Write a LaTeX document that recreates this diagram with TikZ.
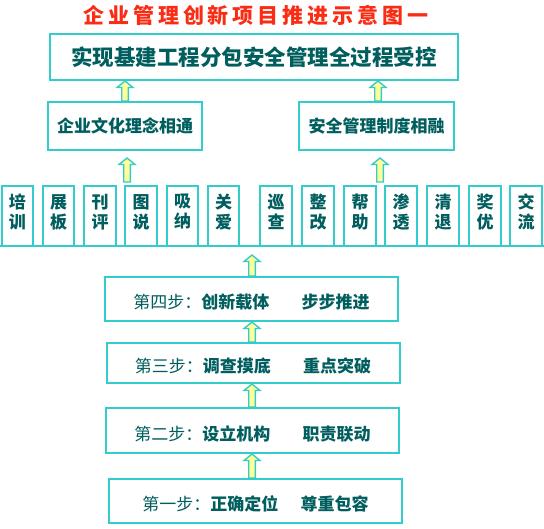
\documentclass[tikz,border=0pt]{standalone}
\usepackage{fontspec}
\newfontfamily\cjk{Noto Sans CJK SC}
\usepackage{xcolor}
\usepackage{tikz}
\usetikzlibrary{calc}
\usetikzlibrary{positioning,backgrounds}

\definecolor{boxline}{RGB}{51,204,204}
\definecolor{boxtext}{RGB}{0,94,94}
\definecolor{titlered}{RGB}{250,45,20}
\definecolor{arrowfill}{RGB}{255,255,153}

\tikzset{
  mainbox/.style={draw=boxline, line width=2pt, fill=white, inner sep=0pt, text=boxtext},
  smallbox/.style={mainbox, minimum width=31.5pt, minimum height=60pt},
  smalltext/.style={align=center, inner sep=0pt, text=boxtext, font=\cjk\bfseries\fontsize{17}{20}\selectfont},
  stepbox/.style={mainbox, minimum width=293pt, text height=20pt, text depth=0pt, font=\cjk\bfseries\fontsize{17}{20}\selectfont},
  blockarrow/.style={draw=boxline, fill=arrowfill, line width=1.4pt, line join=miter},
  rowline/.style={draw=boxline, line width=2pt}
}

% up arrow from #1 to #2, #3/#4 = gaps at foot/tip
\newcommand\blockup[4]{%
  \filldraw[blockarrow] let \p1=#1, \p2=#2 in
    (\x1-3.3pt,\y1+#3) -- (\x1-3.3pt,\y2-#4-6.5pt) -- (\x1-8pt,\y2-#4-6.5pt)
    -- (\x1,\y2-#4) -- (\x1+8pt,\y2-#4-6.5pt) -- (\x1+3.3pt,\y2-#4-6.5pt)
    -- (\x1+3.3pt,\y1+#3) -- cycle;}

\begin{document}
\begin{tikzpicture}[x=1pt,y=-1pt]
	\useasboundingbox (0,0) rectangle (544,529);
	\node[text=titlered, inner sep=0pt, font=\cjk\bfseries\fontsize{21}{21}\selectfont\addfontfeature{LetterSpace=19}] (title) at (256,15) {企业管理创新项目推进示意图一};
	\node[mainbox, minimum width=408pt, minimum height=46pt, text height=18pt, text depth=0pt, font=\cjk\bfseries\fontsize{21.5}{22}\selectfont] (top) at (254,57) {实现基建工程分包安全管理全过程受控};
	\node[mainbox, minimum width=154pt, minimum height=48pt, font=\cjk\bfseries\fontsize{17}{20}\selectfont] (ml) at (125,126) {企业文化理念相通};
	\node[mainbox, minimum width=155pt, minimum height=48pt, font=\cjk\bfseries\fontsize{17}{20}\selectfont] (mr) at (376.5,126) {安全管理制度相融};
	% small boxes
	\foreach \x/\ta/\tb [count=\i] in {17.5/培/训, 58.5/展/板, 100/刊/评, 141/图/说, 182.5/吸/纳, 223.5/关/爱}{
		\node[smallbox] (l\i) at (\x,216) {};
		\node[smalltext] (lt\i) at ([yshift=4pt]l\i.center) {\ta\\\tb};
	}
	\foreach \x/\ta/\tb [count=\i] in {276/巡/查, 318/整/改, 360/帮/助, 401/渗/透, 443/清/退, 485/奖/优, 526/交/流}{
		\node[smallbox] (r\i) at (\x,216) {};
		\node[smalltext] (rt\i) at ([yshift=4pt]r\i.center) {\ta\\\tb};
	}
	\draw[rowline] (0,246) coordinate (baseL) -- (544,246) coordinate (baseR);
	% steps
	\node[stepbox, minimum height=44pt] (s4) at (251.5,299) {{\mdseries 第四步：}创新载体\hspace{1.9em}步步推进};
	\node[stepbox, minimum height=40pt] (s3) at (253,363) {{\mdseries 第三步：}调查摸底\hspace{1.9em}重点突破};
	\node[stepbox, minimum height=45pt] (s2) at (252.5,430.5) {{\mdseries 第二步：}设立机构\hspace{1.9em}职责联动};
	\node[stepbox, minimum height=44pt] (s1) at (255.5,501) {{\mdseries 第一步：}正确定位\hspace{1.3em}尊重包容};
	% arrows
	\coordinate (cTL) at (125,0);
	\coordinate (cTR) at (378,0);
	\coordinate (cML) at (127,0);
	\coordinate (cMR) at (380,0);
	\coordinate (cS) at (252,0);
	\begin{scope}[on background layer]
		\blockup{(ml.north -| cTL)}{(top.south -| cTL)}{0pt}{0pt}
		\blockup{(mr.north -| cTR)}{(top.south -| cTR)}{0pt}{0pt}
		\blockup{(l4.north -| cML)}{(ml.south -| cML)}{3pt}{7pt}
		\blockup{(r3.north -| cMR)}{(mr.south -| cMR)}{3pt}{7pt}
		\blockup{(s4.north -| cS)}{(baseL -| cS)}{0pt}{9pt}
		\blockup{(s3.north -| cS)}{(s4.south -| cS)}{0pt}{0pt}
		\blockup{(s2.north -| cS)}{(s3.south -| cS)}{0pt}{0pt}
		\blockup{(s1.north -| cS)}{(s2.south -| cS)}{0pt}{0pt}
	\end{scope}
\end{tikzpicture}
\end{document}
